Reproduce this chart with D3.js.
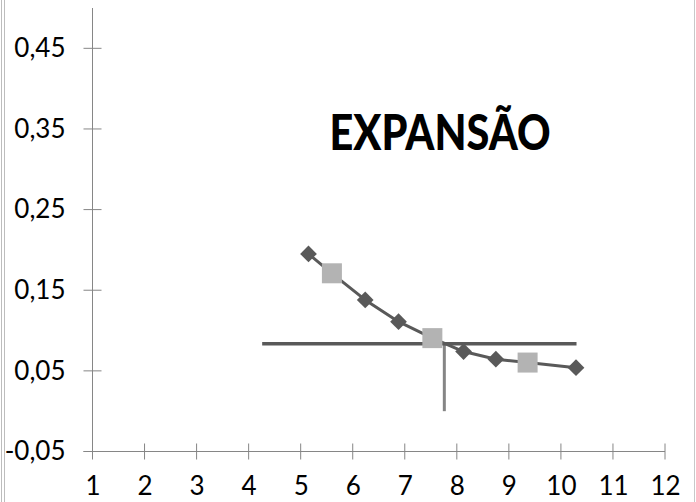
<!DOCTYPE html>
<html><head><meta charset="utf-8">
<script src="https://cdn.jsdelivr.net/npm/d3@7"></script>
<style>body{margin:0;background:#fff}svg{display:block}</style>
</head><body>
<svg id="c" width="696" height="502"></svg>
<script>
const title = "EXPANSÃO";
const xTicks = [1,2,3,4,5,6,7,8,9,10,11,12];
const yTicks = [-0.05,0.05,0.15,0.25,0.35,0.45];
const curveX = [5.15,5.60,6.24,6.88,7.53,8.13,8.75,9.36,10.29];
const curveY = [0.195,0.171,0.138,0.111,0.0906,0.074,0.0645,0.0603,0.054];
const diamondIdx = [0,2,3,5,6,8];
const squareX = [5.60,7.53,9.36];
const squareY = [0.171,0.0906,0.0603];
const hLineX = [4.26,10.30];
const hLineY = [0.0835,0.0835];
const vLineX = [7.76,7.76];
const vLineY = [0.0835,0.0];

const svg = d3.select("#c");
const x = d3.scaleLinear().domain([1,12]).range([92.5,665]);
const y = d3.scaleLinear().domain([-0.05,0.5]).range([451.5,8]);
const fmt = d => (d<0?"-":"") + Math.abs(d).toFixed(2).replace(".",",");

// borders
svg.append("line").attr("x1",1.5).attr("x2",1.5).attr("y1",0).attr("y2",502).attr("stroke","#bdbdbd").attr("stroke-width",1);
svg.append("line").attr("x1",4.5).attr("x2",4.5).attr("y1",0).attr("y2",502).attr("stroke","#bdbdbd").attr("stroke-width",1);
svg.append("line").attr("x1",694.5).attr("x2",694.5).attr("y1",0).attr("y2",502).attr("stroke","#c8c8c8").attr("stroke-width",1);

const axCol = "#868686";
const font = "Lato, 'Open Sans', sans-serif";
// y axis
const ya = svg.append("g").attr("transform",`translate(${x(1)},0)`)
  .call(d3.axisLeft(y).tickValues(yTicks).tickSize(0).tickFormat(fmt).tickPadding(27));
ya.select(".domain").remove();
svg.append("line").attr("x1",x(1)).attr("x2",x(1)).attr("y1",y(0.5)).attr("y2",y(-0.05)).attr("stroke",axCol);
svg.selectAll(".yt").data(yTicks).join("line").attr("class","yt")
  .attr("x1",x(1)-9).attr("x2",x(1)+9).attr("y1",d=>y(d)).attr("y2",d=>y(d)).attr("stroke",axCol);
// x axis
const xa = svg.append("g").attr("transform",`translate(0,${y(-0.05)})`)
  .call(d3.axisBottom(x).tickValues(xTicks).tickSize(0).tickFormat(d3.format("d")).tickPadding(25));
xa.select(".domain").remove();
svg.append("line").attr("x1",x(1)-9).attr("x2",x(12)).attr("y1",y(-0.05)).attr("y2",y(-0.05)).attr("stroke",axCol);
svg.selectAll(".xt").data(xTicks).join("line").attr("class","xt")
  .attr("x1",d=>x(d)).attr("x2",d=>x(d)).attr("y1",y(-0.05)-8).attr("y2",y(-0.05)+8).attr("stroke",axCol);
svg.selectAll(".tick text").attr("font-family",font).attr("font-size",26).attr("fill","#000");

// title
svg.append("text").attr("x",440).attr("y",150).attr("text-anchor","middle")
  .attr("font-family",font).attr("font-weight","900").attr("font-size",50)
  .attr("textLength",221).attr("lengthAdjust","spacingAndGlyphs").text(title);

const line = d3.line().x(d=>x(d[0])).y(d=>y(d[1]));
// vertical line
svg.append("path").attr("d",line(vLineX.map((v,i)=>[v,vLineY[i]]))).attr("stroke","#858585").attr("stroke-width",3).attr("fill","none");
// horizontal line
svg.append("path").attr("d",line(hLineX.map((v,i)=>[v,hLineY[i]]))).attr("stroke","#595959").attr("stroke-width",3.5).attr("fill","none");
// curve
const pts = curveX.map((v,i)=>[v,curveY[i]]);
svg.append("path").attr("d",line(pts)).attr("stroke","#595959").attr("stroke-width",3).attr("fill","none").attr("stroke-linejoin","round");
svg.selectAll(".dia").data(diamondIdx.map(i=>pts[i])).join("path").attr("class","dia")
  .attr("d",d3.symbol(d3.symbolSquare,140)())
  .attr("transform",d=>`translate(${x(d[0])},${y(d[1])}) rotate(45)`).attr("fill","#595959");
svg.selectAll(".sq").data(squareX.map((v,i)=>[v,squareY[i]])).join("rect").attr("class","sq")
  .attr("x",d=>x(d[0])-10).attr("y",d=>y(d[1])-10).attr("width",20).attr("height",20).attr("fill","#b3b3b3");
</script>
</body></html>
